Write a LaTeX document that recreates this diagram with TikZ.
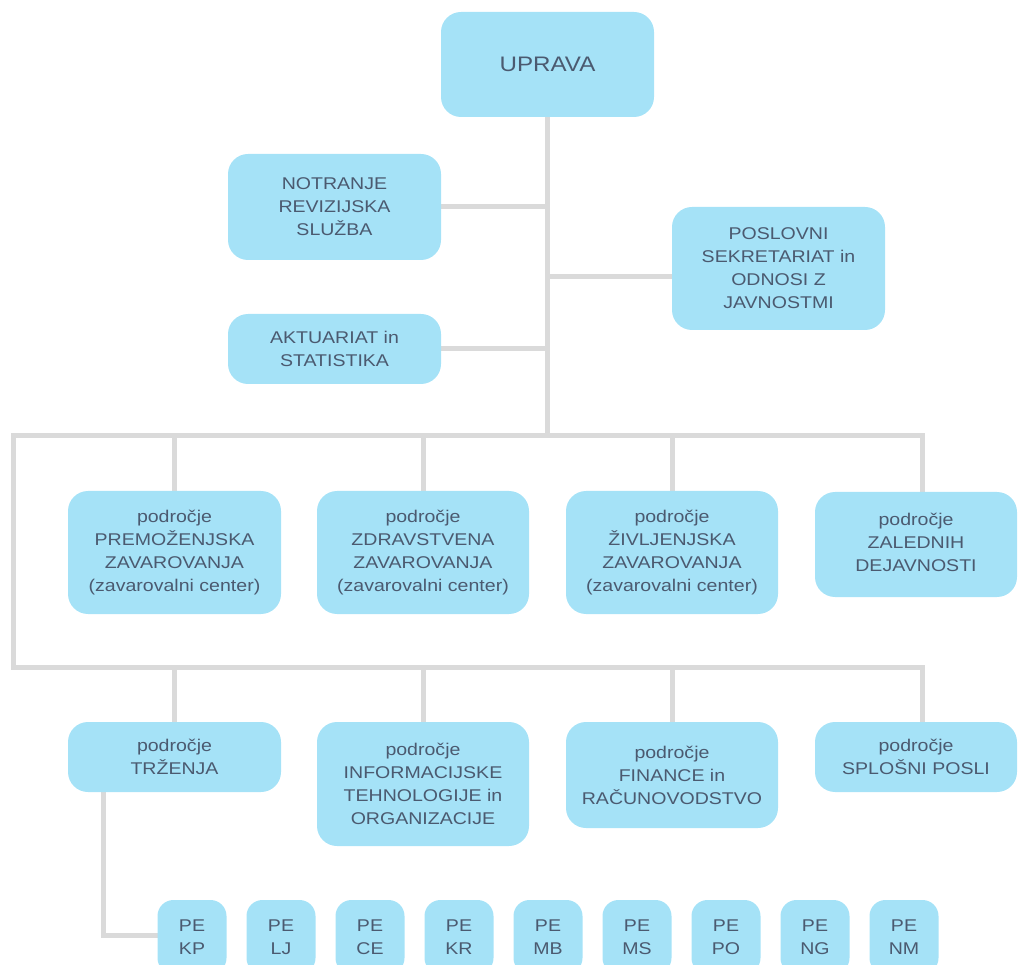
\documentclass[tikz,border=0pt]{standalone}
\usepackage{fontspec}
\setmainfont{Liberation Sans}[FakeStretch=1.15]
\usetikzlibrary{backgrounds}
\definecolor{boxfill}{RGB}{165,226,247}
\definecolor{boxtext}{RGB}{75,90,112}
\definecolor{linegray}{RGB}{218,218,218}
\begin{document}
\begin{tikzpicture}[x=1pt,y=-1pt,
  orgbox/.style={fill=boxfill, draw=none, rounded corners=20pt, align=center,
    text=boxtext, inner sep=0pt, font=\fontsize{17}{23}\selectfont},
  pebox/.style={orgbox, rounded corners=16pt, minimum width=69pt, minimum height=74pt},
  conn/.style={draw=linegray, line width=5pt, line cap=rect}]
\useasboundingbox (0,0) rectangle (1018,965);
\clip (0,0) rectangle (1018,965);

\node[orgbox, minimum width=213pt, minimum height=105pt, font=\fontsize{21}{25}\selectfont] (upr) at (547.5,64.5) {UPRAVA};
\node[orgbox, minimum width=213pt, minimum height=106pt] (notr) at (334.5,207) {NOTRANJE\\REVIZIJSKA\\SLUŽBA};
\node[orgbox, minimum width=213pt, minimum height=123pt] (posl) at (778.5,268.5) {POSLOVNI\\SEKRETARIAT in\\ODNOSI Z\\JAVNOSTMI};
\node[orgbox, minimum width=213pt, minimum height=70pt] (akt) at (334.5,349) {AKTUARIAT in\\STATISTIKA};

\node[orgbox, minimum width=213pt, minimum height=123pt] (r1a) at (174.5,552.5) {področje\\PREMOŽENJSKA\\ZAVAROVANJA\\(zavarovalni center)};
\node[orgbox, minimum width=212pt, minimum height=123pt] (r1b) at (423,552.5) {področje\\ZDRAVSTVENA\\ZAVAROVANJA\\(zavarovalni center)};
\node[orgbox, minimum width=212pt, minimum height=123pt] (r1c) at (672,552.5) {področje\\ŽIVLJENJSKA\\ZAVAROVANJA\\(zavarovalni center)};
\node[orgbox, minimum width=202pt, minimum height=105pt, text depth=4pt] (r1d) at (916,544.5) {področje\\ZALEDNIH\\DEJAVNOSTI};

\node[orgbox, minimum width=213pt, minimum height=70pt] (r2a) at (174.5,757) {področje\\TRŽENJA};
\node[orgbox, minimum width=212pt, minimum height=124pt] (r2b) at (423,784) {področje\\INFORMACIJSKE\\TEHNOLOGIJE in\\ORGANIZACIJE};
\node[orgbox, minimum width=212pt, minimum height=106pt] (r2c) at (672,775) {področje\\FINANCE in\\RAČUNOVODSTVO};
\node[orgbox, minimum width=202pt, minimum height=70pt] (r2d) at (916,757) {področje\\SPLOŠNI POSLI};

\node[pebox] (kp) at (192,937) {PE\\KP};
\node[pebox] (lj) at (281,937) {PE\\LJ};
\node[pebox] (ce) at (370,937) {PE\\CE};
\node[pebox] (kr) at (459,937) {PE\\KR};
\node[pebox] (mb) at (548,937) {PE\\MB};
\node[pebox] (ms) at (637,937) {PE\\MS};
\node[pebox] (po) at (726,937) {PE\\PO};
\node[pebox] (ng) at (815,937) {PE\\NG};
\node[pebox] (nm) at (904,937) {PE\\NM};

\coordinate (trunk) at (547,436);
\coordinate (pj) at (547,277);
\coordinate (bl) at (13,436);
\coordinate (br) at (922,436);
\coordinate (bl2) at (13,667);
\coordinate (br2) at (922,667);
\coordinate (tk) at (103,935);

\begin{scope}[on background layer]
\draw[conn] (upr.south -| trunk) -- (trunk);
\draw[conn] (notr.east) -- (notr.east -| trunk);
\draw[conn] (akt.east) -- (akt.east -| trunk);
\draw[conn] (pj) -- (pj -| posl.west);
\draw[conn] (br) -- (bl) -- (bl2) -- (br2);
\draw[conn] (r1a.north |- bl) -- (r1a.north);
\draw[conn] (r1b.north |- bl) -- (r1b.north);
\draw[conn] (r1c.north |- bl) -- (r1c.north);
\draw[conn] (br) -- (br |- r1d.north);
\draw[conn] (r2a.north |- bl2) -- (r2a.north);
\draw[conn] (r2b.north |- bl2) -- (r2b.north);
\draw[conn] (r2c.north |- bl2) -- (r2c.north);
\draw[conn] (br2) -- (br2 |- r2d.north);
\draw[conn] (r2a.south -| tk) -- (tk) -- (tk -| kp.west);
\end{scope}
\end{tikzpicture}
\end{document}
